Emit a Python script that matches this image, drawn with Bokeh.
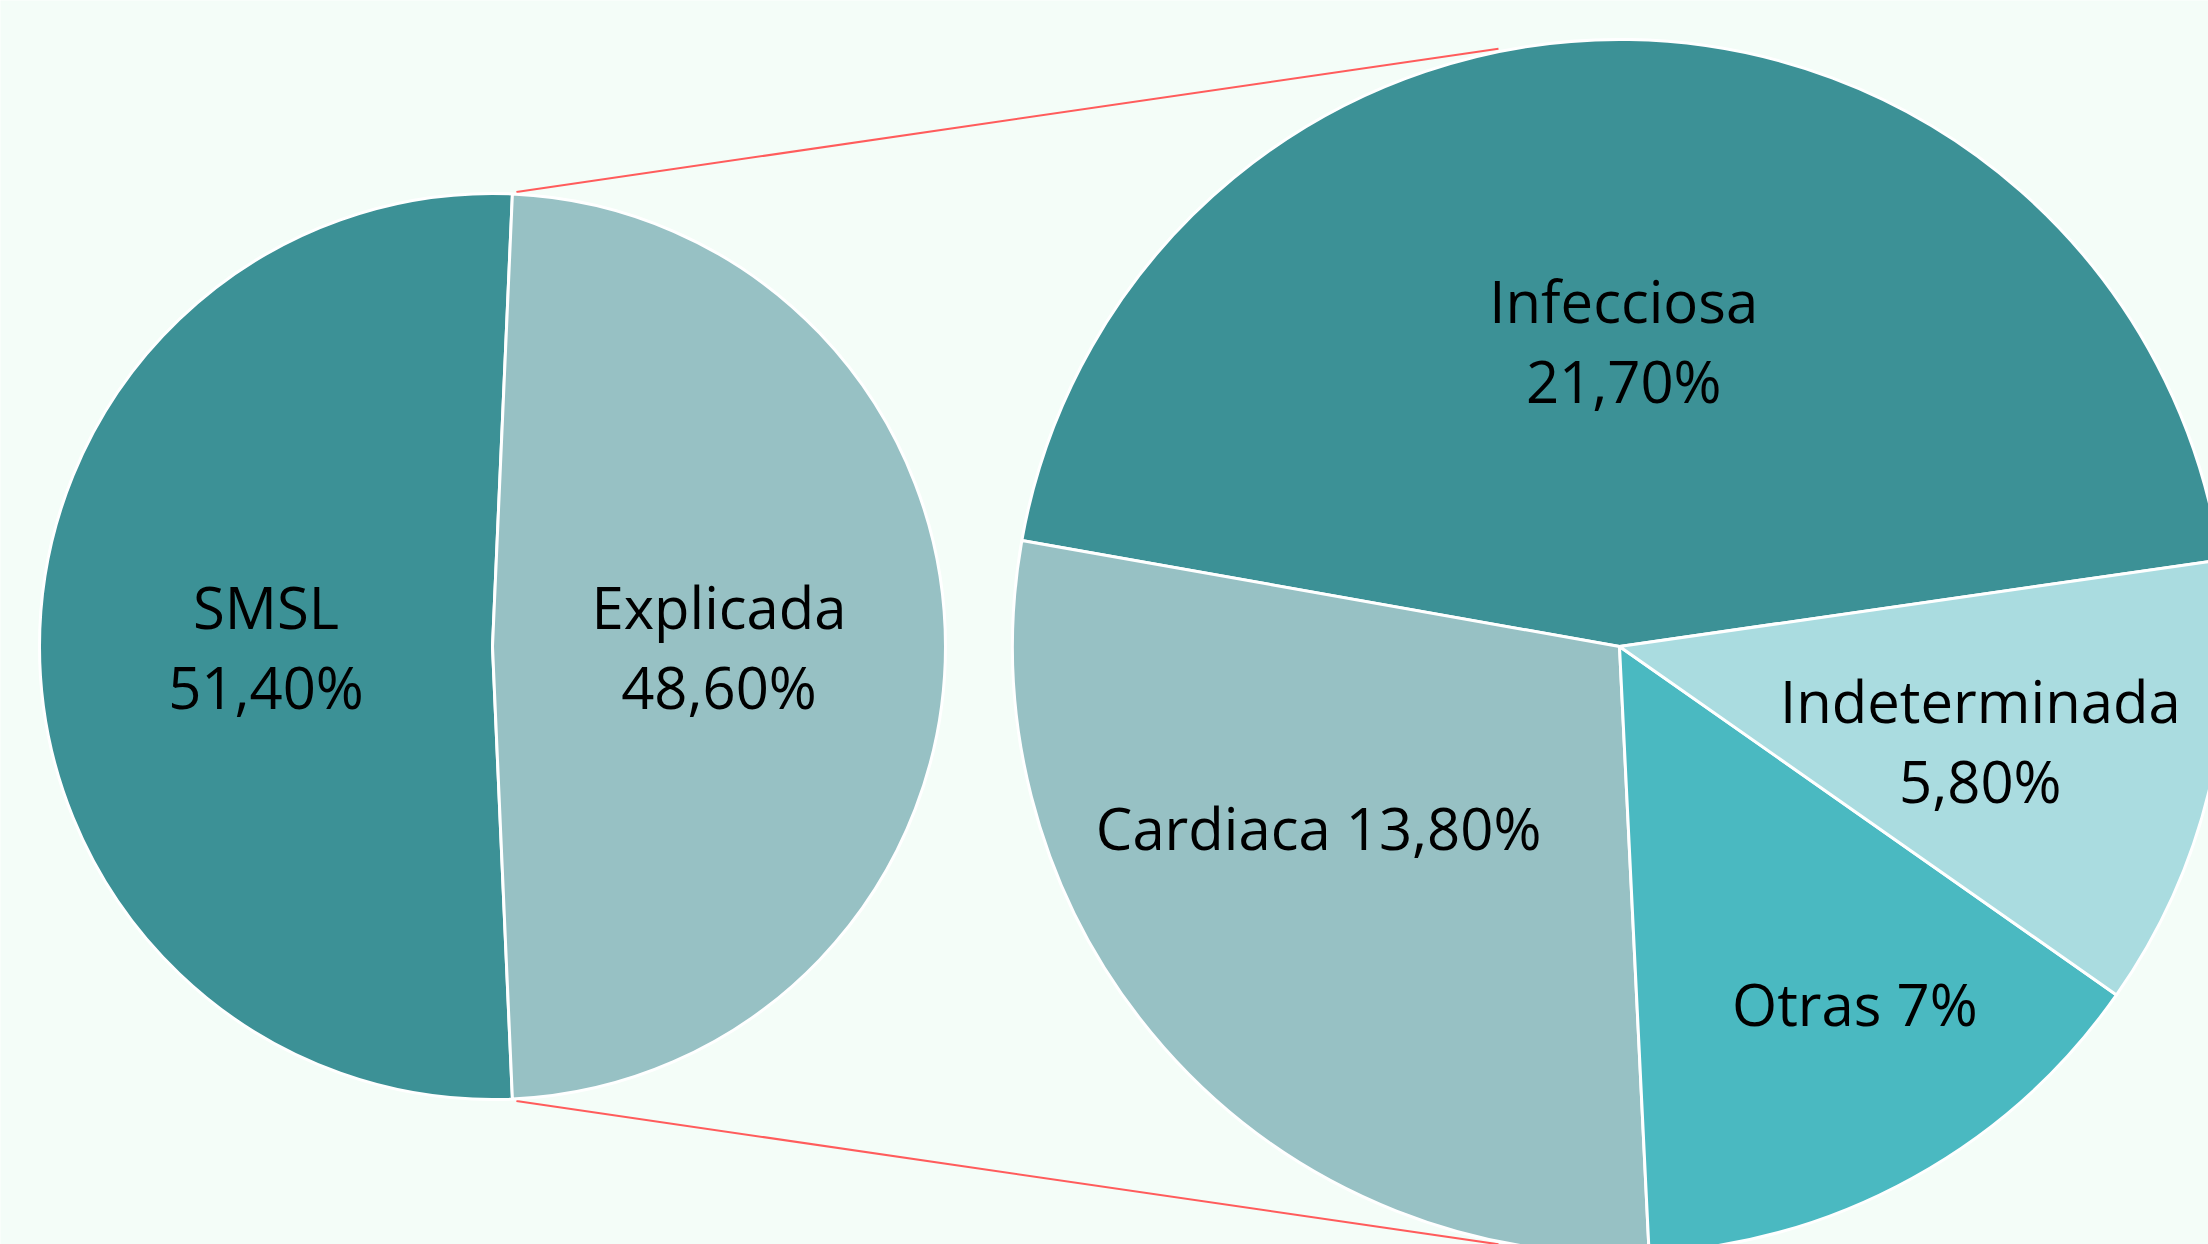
import math
from bokeh.plotting import figure
from bokeh.models import Range1d, ColumnDataSource
from bokeh.core.properties import value
from bokeh.embed import file_html
from bokeh.resources import INLINE

# ---------------- data ----------------
main_names = ["SMSL", "Explicada"]
main_values = [51.40, 48.60]
main_pct = ["51,40%", "48,60%"]

sub_names = ["Infecciosa", "Cardiaca", "Otras", "Indeterminada"]
sub_values = [21.70, 13.80, 7.0, 5.80]
sub_pct = ["21,70%", "13,80%", "7%", "5,80%"]
sub_two_lines = [True, False, False, True]

# ---------------- style ----------------
W, H = 2208, 1244
BG = "#F4FDF8"
main_colors = ["#3C9196", "#97C1C4"]
sub_colors = ["#3C9196", "#97C1C4", "#4AB9C1", "#AADCE0"]
FONT = "Open Sans"
FS = "58px"
TEXT_SHIFT = 24  # baseline correction (px)
LEFT_C = (492, H - 646)
LEFT_R = 453
RIGHT_C = (1619, H - 646)
RIGHT_R = 607
SUB_START_DEG = 8.2
# label placement (radius fraction, angle in degrees) for the sub pie
sub_label_pos = [(0.498, 89.2), (0.582, 211.6), (0.710, 303.1), (0.616, 344.8)]
CONNECT_END_DEG = 101.5

p = figure(width=W, height=H, x_range=Range1d(0, W), y_range=Range1d(0, H),
           output_backend="svg", toolbar_location=None, min_border=0)
p.axis.visible = False
p.grid.visible = False
p.outline_line_color = None
p.background_fill_color = BG
p.border_fill_color = BG

# ---------- main pie ----------
tot = sum(main_values)
frac_expl = main_values[1] / tot
start = -frac_expl * math.pi  # Explicada centred on 0 rad
# counter-clockwise: Explicada then SMSL
m_start, m_end = [], []
ang = start
for v in [main_values[1], main_values[0]]:
    a = v / tot * 2 * math.pi
    m_start.append(ang)
    m_end.append(ang + a)
    ang += a

# ---------- sub pie ----------
stot = sum(sub_values)
s_start, s_end = [], []
ang = math.radians(SUB_START_DEG)
for v in sub_values:
    a = v / stot * 2 * math.pi
    s_start.append(ang)
    s_end.append(ang + a)
    ang += a

# ---------- connector lines (drawn under the pies) ----------
ea = m_end[0]  # top edge of Explicada
x0 = LEFT_C[0] + LEFT_R * math.cos(ea) + 4
y0 = LEFT_C[1] + LEFT_R * math.sin(ea) + 2
ce = math.radians(CONNECT_END_DEG)
x1 = RIGHT_C[0] + RIGHT_R * math.cos(ce)
y1 = RIGHT_C[1] + RIGHT_R * math.sin(ce) + 3
p.segment(x0=[x0, x0], y0=[y0, 2 * LEFT_C[1] - y0], x1=[x1, x1], y1=[y1, 2 * RIGHT_C[1] - y1],
          line_color="#FF5C5C", line_width=2)

m_src = ColumnDataSource(dict(
    x=[LEFT_C[0]] * 2, y=[LEFT_C[1]] * 2,
    s=[m_start[1], m_start[0]], e=[m_end[1], m_end[0]],
    color=main_colors))
p.wedge(x="x", y="y", radius=LEFT_R, start_angle="s", end_angle="e",
        fill_color="color", line_color="white", line_width=3, source=m_src)

s_src = ColumnDataSource(dict(
    x=[RIGHT_C[0]] * 4, y=[RIGHT_C[1]] * 4, s=s_start, e=s_end, color=sub_colors))
p.wedge(x="x", y="y", radius=RIGHT_R, start_angle="s", end_angle="e",
        fill_color="color", line_color="white", line_width=3, source=s_src)

# ---------- labels ----------
tx, ty, tt = [], [], []
mids_main = [(m_start[1] + m_end[1]) / 2, (m_start[0] + m_end[0]) / 2]
for name, pct, mid in zip(main_names, main_pct, mids_main):
    cx = LEFT_C[0] + 0.5 * LEFT_R * math.cos(mid)
    cy = LEFT_C[1] + 0.5 * LEFT_R * math.sin(mid) - 4 + TEXT_SHIFT
    tx += [cx, cx]
    ty += [cy + 20, cy - 60]
    tt += [name, pct]

for name, pct, two, (rf, adeg) in zip(sub_names, sub_pct, sub_two_lines, sub_label_pos):
    a = math.radians(adeg)
    cx = RIGHT_C[0] + rf * RIGHT_R * math.cos(a)
    cy = RIGHT_C[1] + rf * RIGHT_R * math.sin(a) + TEXT_SHIFT
    if two:
        tx += [cx, cx]
        ty += [cy + 20, cy - 60]
        tt += [name, pct]
    else:
        tx.append(cx)
        ty.append(cy - 20)
        tt.append(name + " " + pct)

p.text(x=tx, y=ty, text=tt, text_font=value(FONT), text_font_size=FS,
       text_align="center", text_baseline="alphabetic", text_color="#000000")

open("out.html", "w").write(file_html(p, INLINE))
